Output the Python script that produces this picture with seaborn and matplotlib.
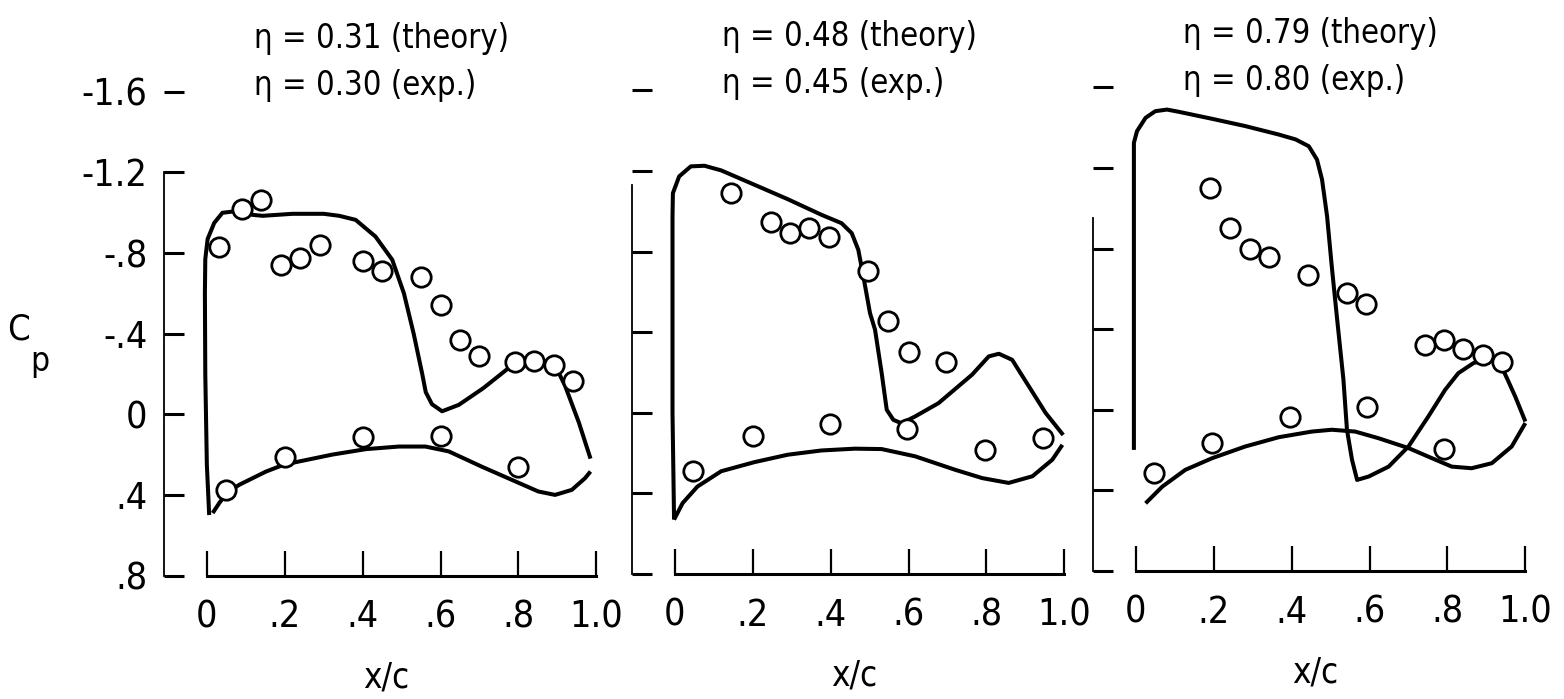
import matplotlib
matplotlib.use("Agg")
import matplotlib.pyplot as plt
from matplotlib import font_manager
import seaborn as sns
import pandas as pd

# ---- span station eta = 0.31 (theory) / 0.30 (exp.) ----
x1_upper_theory = [0.006, 0.0, -0.004, -0.005, -0.004, 0.002, 0.019, 0.04, 0.083, 0.117,
                   0.143, 0.22, 0.30, 0.34, 0.382, 0.433, 0.476, 0.506, 0.531, 0.553,
                   0.562, 0.578, 0.604, 0.647, 0.71, 0.775, 0.82, 0.86, 0.905, 0.92,
                   0.955, 0.985]
cp1_upper_theory = [0.50, 0.25, -0.20, -0.60, -0.77, -0.87, -0.95, -1.00, -1.01, -0.99,
                    -0.985, -0.995, -0.995, -0.985, -0.965, -0.882, -0.767, -0.60, -0.40, -0.20,
                    -0.11, -0.05, -0.015, -0.047, -0.13, -0.23, -0.27, -0.27, -0.20, -0.14,
                    0.04, 0.22]
x1_lower_theory = [0.015, 0.032, 0.052, 0.083, 0.152, 0.198, 0.237, 0.322, 0.408, 0.493,
                   0.561, 0.621, 0.706, 0.792, 0.851, 0.894, 0.937, 0.971, 0.985]
cp1_lower_theory = [0.49, 0.44, 0.39, 0.35, 0.284, 0.25, 0.234, 0.20, 0.173, 0.16,
                    0.16, 0.184, 0.26, 0.333, 0.383, 0.40, 0.375, 0.317, 0.284]
x1_upper_exp = [0.03, 0.09, 0.14, 0.19, 0.24, 0.29, 0.40, 0.45, 0.55, 0.60, 0.65, 0.70,
                0.79, 0.84, 0.89, 0.94]
cp1_upper_exp = [-0.83, -1.02, -1.065, -0.74, -0.775, -0.84, -0.76, -0.71, -0.68, -0.54,
                 -0.37, -0.29, -0.26, -0.265, -0.245, -0.165]
x1_lower_exp = [0.05, 0.20, 0.40, 0.60, 0.80]
cp1_lower_exp = [0.375, 0.214, 0.113, 0.107, 0.262]

# ---- span station eta = 0.48 (theory) / 0.45 (exp.) ----
x2_upper_theory = [-0.002, -0.006, -0.006, -0.005, 0.011, 0.041, 0.076, 0.119, 0.204, 0.29,
                   0.376, 0.428, 0.454, 0.471, 0.484, 0.501, 0.514, 0.531, 0.544, 0.561,
                   0.582, 0.617, 0.677, 0.763, 0.806, 0.832, 0.866, 0.909, 0.952, 0.997]
cp2_upper_theory = [0.53, 0.0, -0.974, -1.09, -1.173, -1.223, -1.226, -1.203, -1.132, -1.06,
                    -0.983, -0.941, -0.892, -0.809, -0.677, -0.495, -0.412, -0.197, -0.015, 0.035,
                    0.052, 0.018, -0.048, -0.189, -0.28, -0.293, -0.263, -0.131, 0.001, 0.11]
x2_lower_theory = [-0.002, 0.02, 0.058, 0.119, 0.204, 0.29, 0.376, 0.462, 0.531, 0.617,
                   0.72, 0.789, 0.857, 0.918, 0.969, 0.995]
cp2_lower_theory = [0.53, 0.448, 0.366, 0.29, 0.245, 0.208, 0.187, 0.178, 0.18, 0.216,
                    0.283, 0.324, 0.348, 0.315, 0.233, 0.159]
x2_upper_exp = [0.144, 0.246, 0.295, 0.345, 0.395, 0.497, 0.548, 0.60, 0.696, 0.945]
cp2_upper_exp = [-1.093, -0.949, -0.892, -0.917, -0.87, -0.706, -0.458, -0.30, -0.25, 0.123]
x2_lower_exp = [0.046, 0.20, 0.398, 0.597, 0.797]
cp2_lower_exp = [0.288, 0.114, 0.056, 0.081, 0.187]

# ---- span station eta = 0.79 (theory) / 0.80 (exp.) ----
x3_upper_theory = [-0.005, -0.005, -0.005, 0.003, 0.025, 0.05, 0.08, 0.11, 0.196, 0.281,
                   0.367, 0.41, 0.444, 0.465, 0.478, 0.491, 0.503, 0.516, 0.533, 0.542,
                   0.555, 0.568, 0.598, 0.649, 0.70, 0.751, 0.794, 0.828, 0.867, 0.90,
                   0.935, 0.952, 0.974, 1.0]
cp3_upper_theory = [0.199, -0.5, -1.325, -1.383, -1.449, -1.482, -1.49, -1.479, -1.444, -1.408,
                    -1.366, -1.342, -1.308, -1.242, -1.143, -0.96, -0.712, -0.464, -0.149, 0.099,
                    0.248, 0.348, 0.331, 0.282, 0.182, 0.033, -0.099, -0.182, -0.232, -0.25,
                    -0.23, -0.16, -0.066, 0.058]
x3_lower_theory = [0.025, 0.068, 0.127, 0.196, 0.281, 0.367, 0.452, 0.503, 0.563, 0.623,
                   0.70, 0.76, 0.811, 0.862, 0.914, 0.965, 1.0]
cp3_lower_theory = [0.464, 0.381, 0.298, 0.24, 0.182, 0.136, 0.108, 0.099, 0.108, 0.141,
                    0.19, 0.24, 0.282, 0.29, 0.265, 0.182, 0.066]
x3_upper_exp = [0.19, 0.243, 0.292, 0.343, 0.442, 0.541, 0.591, 0.743, 0.792, 0.839, 0.89, 0.941]
cp3_upper_exp = [-1.10, -0.90, -0.80, -0.757, -0.671, -0.58, -0.525, -0.323, -0.344, -0.303,
                 -0.273, -0.235]
x3_lower_exp = [0.046, 0.196, 0.395, 0.593, 0.79]
cp3_lower_exp = [0.315, 0.166, 0.038, -0.012, 0.194]

panel_titles = [
    ["η = 0.31 (theory)", "η = 0.30 (exp.)"],
    ["η = 0.48 (theory)", "η = 0.45 (exp.)"],
    ["η = 0.79 (theory)", "η = 0.80 (exp.)"],
]
y_ticks = [-1.6, -1.2, -0.8, -0.4, 0.0, 0.4, 0.8]
y_tick_labels = ["-1.6", "-1.2", "-.8", "-.4", "0", ".4", ".8"]
x_ticks = [0.0, 0.2, 0.4, 0.6, 0.8, 1.0]
x_tick_labels = ["0", ".2", ".4", ".6", ".8", "1.0"]

panels = [
    (x1_upper_theory, cp1_upper_theory, x1_lower_theory, cp1_lower_theory,
     x1_upper_exp + x1_lower_exp, cp1_upper_exp + cp1_lower_exp),
    (x2_upper_theory, cp2_upper_theory, x2_lower_theory, cp2_lower_theory,
     x2_upper_exp + x2_lower_exp, cp2_upper_exp + cp2_lower_exp),
    (x3_upper_theory, cp3_upper_theory, x3_lower_theory, cp3_lower_theory,
     x3_upper_exp + x3_lower_exp, cp3_upper_exp + cp3_lower_exp),
]

sns.set_theme(style="white")

# prefer a condensed sans face if one is installed
condensed = None
for f in font_manager.fontManager.ttflist:
    fn = f.fname.lower()
    if ("condensed" in fn or "narrow" in fn) and "bold" not in fn and "italic" not in fn \
            and "oblique" not in fn and "mono" not in fn and "serif" not in fn.replace("sans", ""):
        condensed = f
        break
if condensed is not None:
    plt.rcParams["font.family"] = [condensed.name, "DejaVu Sans"]
    plt.rcParams["font.stretch"] = condensed.stretch
    fs_title, fs_tick, fs_label = 23.5, 27, 25
else:
    plt.rcParams["font.family"] = ["Liberation Sans", "DejaVu Sans"]
    fs_title, fs_tick, fs_label = 21, 25, 23

plt.rcParams.update({
    "text.color": "black",
    "axes.labelcolor": "black",
    "xtick.color": "black",
    "ytick.color": "black",
})

W, H = 1564, 699
fig = plt.figure(figsize=(W / 100, H / 100), dpi=100)

# axes frames in pixels: left edge (spine), bottom of frame (Cp = 0.8)
frame_left = [164, 632, 1093]
frame_bottom = [123.5, 125.0, 128.0]
spine_top = [-1.2, -1.13, -0.95]
xmin, xmax = -0.11, 1.03
ymax_val, ymin_val = 0.8, -1.75
px_per_x = 389.5
px_per_y = 201.5
ax_w = (xmax - xmin) * px_per_x
ax_h = (ymax_val - ymin_val) * px_per_y

for i, (xu, cu, xl, cl, xe, ce) in enumerate(panels):
    ax = fig.add_axes([frame_left[i] / W, frame_bottom[i] / H, ax_w / W, ax_h / H])
    ax.set_facecolor("white")

    theory_u = pd.DataFrame({"x": xu, "cp": cu})
    theory_l = pd.DataFrame({"x": xl, "cp": cl})
    exp_df = pd.DataFrame({"x": xe, "cp": ce})

    for df in (theory_u, theory_l):
        sns.lineplot(data=df, x="x", y="cp", sort=False, estimator=None, ax=ax,
                     color="black", linewidth=2.9, zorder=2)
    sns.scatterplot(data=exp_df, x="x", y="cp", ax=ax, marker="o", s=195,
                    facecolor="white", edgecolor="black", linewidth=2.0,
                    zorder=3, clip_on=False)
    for ln in ax.lines:
        ln.set_solid_joinstyle("round")
        ln.set_solid_capstyle("butt")

    ax.set_xlim(xmin, xmax)
    ax.set_ylim(ymax_val, ymin_val)

    for side in ("top", "right"):
        ax.spines[side].set_visible(False)
    ax.spines["left"].set_bounds(spine_top[i], 0.8)
    ax.spines["left"].set_linewidth(1.3)
    ax.spines["bottom"].set_bounds(0.0, 1.0)
    ax.spines["bottom"].set_linewidth(2.2)
    for sp in ax.spines.values():
        sp.set_color("black")

    ax.set_yticks(y_ticks)
    ax.set_xticks(x_ticks)
    ax.set_xticklabels(x_tick_labels)
    if i == 0:
        ax.set_yticklabels(y_tick_labels)
    else:
        ax.set_yticklabels([])
    ax.tick_params(axis="y", left=True, direction="in", length=14.5, width=2.2, pad=12,
                   labelsize=fs_tick, colors="black")
    ax.tick_params(axis="x", bottom=True, direction="in", length=18, width=1.6, pad=17,
                   labelsize=fs_tick, colors="black")

    ax.set_xlabel("x/c", fontsize=fs_label, labelpad=18)
    ax.set_ylabel("")

    ax.text(0.12, -1.82, panel_titles[i][0], fontsize=fs_title, ha="left", va="baseline")
    ax.text(0.12, -1.585, panel_titles[i][1], fontsize=fs_title, ha="left", va="baseline")

fig.text(18.5 / W, 1 - 330 / H, "C", fontsize=fs_label + 1, ha="center", va="center")
fig.text(40 / W, 1 - 362 / H, "p", fontsize=fs_label - 1, ha="center", va="center")

fig.savefig("out.png", dpi=100, facecolor="white")
